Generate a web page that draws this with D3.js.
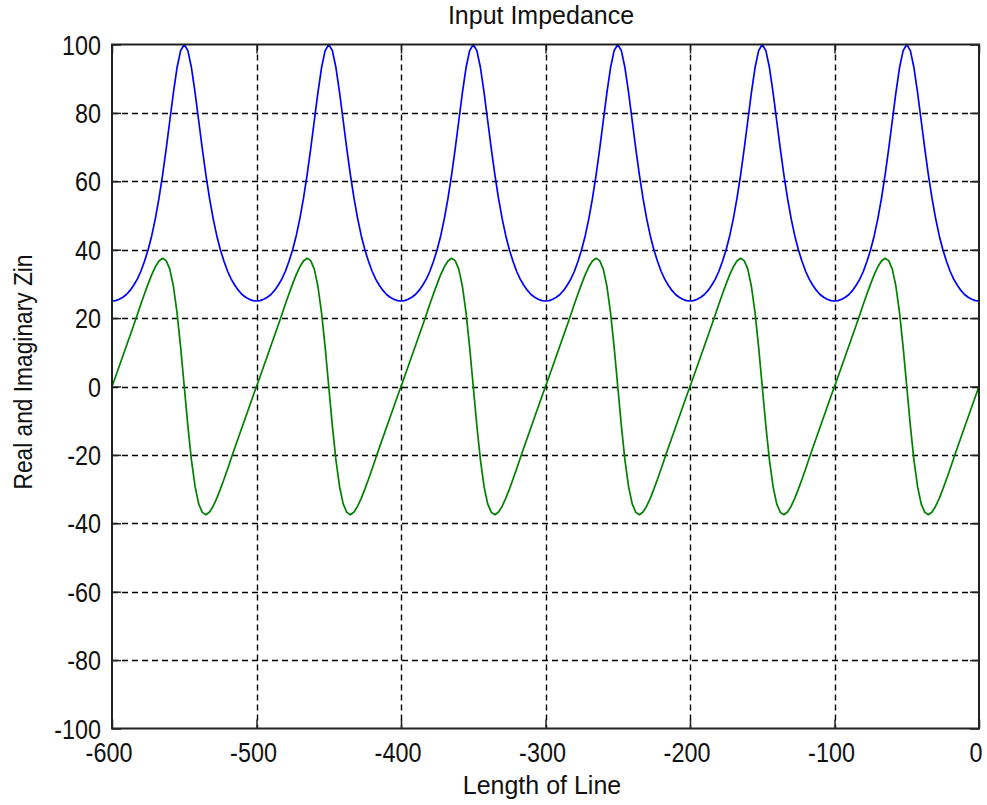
<!DOCTYPE html>
<html>
<head>
<meta charset="utf-8">
<script src="https://cdn.jsdelivr.net/npm/d3@7"></script>
<style>
  html, body { margin: 0; padding: 0; background: #ffffff; }
  svg { display: block; }
  text { font-family: "Liberation Sans", Arial, Helvetica, sans-serif; fill: #111; }
</style>
</head>
<body>
<svg id="chart" width="987" height="805"></svg>
<script>
// ---------------- DATA ----------------
const chartTitle = "Input Impedance";
const xAxisTitle = "Length of Line";
const yAxisTitle = "Real and Imaginary Zin";

// sample positions along the line (x values, step 2.5)
const lineLength = d3.range(-600, 0.001, 2.5);

// Real part of Zin
const realZin = [
  25.0, 25.1, 25.5, 26.1, 26.9, 28.1, 29.6, 31.4, 33.7, 36.6, 40.0, 44.1, 49.1, 55.0, 61.8, 69.5, 77.7, 85.9, 93.2, 98.2, 100.0, 98.2, 93.2, 85.9, 77.7, 69.5, 61.8, 55.0, 49.1, 44.1, 40.0, 36.6, 33.7, 31.4, 29.6, 28.1, 26.9, 26.1, 25.5, 25.1,
  25.0, 25.1, 25.5, 26.1, 26.9, 28.1, 29.6, 31.4, 33.7, 36.6, 40.0, 44.1, 49.1, 55.0, 61.8, 69.5, 77.7, 85.9, 93.2, 98.2, 100.0, 98.2, 93.2, 85.9, 77.7, 69.5, 61.8, 55.0, 49.1, 44.1, 40.0, 36.6, 33.7, 31.4, 29.6, 28.1, 26.9, 26.1, 25.5, 25.1,
  25.0, 25.1, 25.5, 26.1, 26.9, 28.1, 29.6, 31.4, 33.7, 36.6, 40.0, 44.1, 49.1, 55.0, 61.8, 69.5, 77.7, 85.9, 93.2, 98.2, 100.0, 98.2, 93.2, 85.9, 77.7, 69.5, 61.8, 55.0, 49.1, 44.1, 40.0, 36.6, 33.7, 31.4, 29.6, 28.1, 26.9, 26.1, 25.5, 25.1,
  25.0, 25.1, 25.5, 26.1, 26.9, 28.1, 29.6, 31.4, 33.7, 36.6, 40.0, 44.1, 49.1, 55.0, 61.8, 69.5, 77.7, 85.9, 93.2, 98.2, 100.0, 98.2, 93.2, 85.9, 77.7, 69.5, 61.8, 55.0, 49.1, 44.1, 40.0, 36.6, 33.7, 31.4, 29.6, 28.1, 26.9, 26.1, 25.5, 25.1,
  25.0, 25.1, 25.5, 26.1, 26.9, 28.1, 29.6, 31.4, 33.7, 36.6, 40.0, 44.1, 49.1, 55.0, 61.8, 69.5, 77.7, 85.9, 93.2, 98.2, 100.0, 98.2, 93.2, 85.9, 77.7, 69.5, 61.8, 55.0, 49.1, 44.1, 40.0, 36.6, 33.7, 31.4, 29.6, 28.1, 26.9, 26.1, 25.5, 25.1,
  25.0, 25.1, 25.5, 26.1, 26.9, 28.1, 29.6, 31.4, 33.7, 36.6, 40.0, 44.1, 49.1, 55.0, 61.8, 69.5, 77.7, 85.9, 93.2, 98.2, 100.0, 98.2, 93.2, 85.9, 77.7, 69.5, 61.8, 55.0, 49.1, 44.1, 40.0, 36.6, 33.7, 31.4, 29.6, 28.1, 26.9, 26.1, 25.5, 25.1,
  25.0
];

// Imaginary part of Zin
const imagZin = [
  0.0, 2.9, 5.9, 8.9, 11.9, 14.9, 17.9, 21.0, 24.1, 27.1, 30.0, 32.7, 35.0, 36.7, 37.5, 36.8, 34.3, 29.3, 21.6, 11.5, 0.0, -11.5, -21.6, -29.3, -34.3, -36.8, -37.5, -36.7, -35.0, -32.7, -30.0, -27.1, -24.1, -21.0, -17.9, -14.9, -11.9, -8.9, -5.9, -2.9,
  0.0, 2.9, 5.9, 8.9, 11.9, 14.9, 17.9, 21.0, 24.1, 27.1, 30.0, 32.7, 35.0, 36.7, 37.5, 36.8, 34.3, 29.3, 21.6, 11.5, 0.0, -11.5, -21.6, -29.3, -34.3, -36.8, -37.5, -36.7, -35.0, -32.7, -30.0, -27.1, -24.1, -21.0, -17.9, -14.9, -11.9, -8.9, -5.9, -2.9,
  0.0, 2.9, 5.9, 8.9, 11.9, 14.9, 17.9, 21.0, 24.1, 27.1, 30.0, 32.7, 35.0, 36.7, 37.5, 36.8, 34.3, 29.3, 21.6, 11.5, 0.0, -11.5, -21.6, -29.3, -34.3, -36.8, -37.5, -36.7, -35.0, -32.7, -30.0, -27.1, -24.1, -21.0, -17.9, -14.9, -11.9, -8.9, -5.9, -2.9,
  0.0, 2.9, 5.9, 8.9, 11.9, 14.9, 17.9, 21.0, 24.1, 27.1, 30.0, 32.7, 35.0, 36.7, 37.5, 36.8, 34.3, 29.3, 21.6, 11.5, 0.0, -11.5, -21.6, -29.3, -34.3, -36.8, -37.5, -36.7, -35.0, -32.7, -30.0, -27.1, -24.1, -21.0, -17.9, -14.9, -11.9, -8.9, -5.9, -2.9,
  0.0, 2.9, 5.9, 8.9, 11.9, 14.9, 17.9, 21.0, 24.1, 27.1, 30.0, 32.7, 35.0, 36.7, 37.5, 36.8, 34.3, 29.3, 21.6, 11.5, 0.0, -11.5, -21.6, -29.3, -34.3, -36.8, -37.5, -36.7, -35.0, -32.7, -30.0, -27.1, -24.1, -21.0, -17.9, -14.9, -11.9, -8.9, -5.9, -2.9,
  0.0, 2.9, 5.9, 8.9, 11.9, 14.9, 17.9, 21.0, 24.1, 27.1, 30.0, 32.7, 35.0, 36.7, 37.5, 36.8, 34.3, 29.3, 21.6, 11.5, 0.0, -11.5, -21.6, -29.3, -34.3, -36.8, -37.5, -36.7, -35.0, -32.7, -30.0, -27.1, -24.1, -21.0, -17.9, -14.9, -11.9, -8.9, -5.9, -2.9,
  0.0
];

const xTicks = [-600, -500, -400, -300, -200, -100, 0];
const yTicks = [-100, -80, -60, -40, -20, 0, 20, 40, 60, 80, 100];

// ---------------- LAYOUT ----------------
const plot = { left: 112, right: 979, top: 44.5, bottom: 728.5 };
const svg = d3.select("#chart");

const x = d3.scaleLinear().domain([-600, 0]).range([plot.left, plot.right]);
const y = d3.scaleLinear().domain([-100, 100]).range([plot.bottom, plot.top]);

// grid (dashed)
const grid = svg.append("g");
grid.selectAll("line.gx").data(xTicks.slice(1, -1)).join("line")
  .attr("x1", d => Math.round(x(d)) + 0.5).attr("x2", d => Math.round(x(d)) + 0.5)
  .attr("y1", plot.top).attr("y2", plot.bottom)
  .attr("stroke", "#000").attr("stroke-width", 1.4).attr("stroke-dasharray", "6,4");
grid.selectAll("line.gy").data(yTicks.slice(1, -1)).join("line")
  .attr("y1", d => Math.round(y(d)) + 0.5).attr("y2", d => Math.round(y(d)) + 0.5)
  .attr("x1", plot.left).attr("x2", plot.right)
  .attr("stroke", "#000").attr("stroke-width", 1.4).attr("stroke-dasharray", "6,4");

// curves
svg.append("clipPath").attr("id", "clip").append("rect")
  .attr("x", plot.left).attr("y", plot.top - 1)
  .attr("width", plot.right - plot.left).attr("height", plot.bottom - plot.top + 2);

const curve = d3.line().x((d, i) => x(lineLength[i])).y(d => y(d));
svg.append("path").datum(realZin)
  .attr("clip-path", "url(#clip)")
  .attr("d", curve).attr("fill", "none")
  .attr("stroke", "#0000ff").attr("stroke-width", 1.7).attr("stroke-linejoin", "round");
svg.append("path").datum(imagZin)
  .attr("clip-path", "url(#clip)")
  .attr("d", curve).attr("fill", "none")
  .attr("stroke", "#008000").attr("stroke-width", 1.7).attr("stroke-linejoin", "round");

// axes box
const axisColor = "#222";
const gx = svg.append("g").attr("transform", `translate(0,${plot.bottom})`)
  .call(d3.axisBottom(x).tickValues(xTicks).tickSize(-9).tickFormat(""));
const gxTop = svg.append("g").attr("transform", `translate(0,${plot.top})`)
  .call(d3.axisTop(x).tickValues(xTicks).tickSize(-9).tickFormat(""));
const gy = svg.append("g").attr("transform", `translate(${plot.left},0)`)
  .call(d3.axisLeft(y).tickValues(yTicks).tickSize(-9).tickFormat(""));
const gyR = svg.append("g").attr("transform", `translate(${plot.right},0)`)
  .call(d3.axisRight(y).tickValues(yTicks).tickSize(-9).tickFormat(""));
[gx, gxTop, gy, gyR].forEach(g => {
  g.selectAll(".domain").remove();
  g.selectAll(".tick line").attr("stroke", axisColor).attr("stroke-width", 1.5);
});
svg.append("rect")
  .attr("x", plot.left).attr("y", plot.top)
  .attr("width", plot.right - plot.left).attr("height", plot.bottom - plot.top)
  .attr("fill", "none").attr("stroke", axisColor).attr("stroke-width", 2);

// tick labels (condensed, ASCII hyphen minus)
const tickFont = 28, squeeze = 0.835;
svg.append("g").selectAll("g").data(xTicks).join("g")
  .attr("transform", d => `translate(${x(d) - 3},762) scale(${squeeze},1)`)
  .append("text").attr("text-anchor", "middle")
  .style("font-size", tickFont + "px").text(d => String(d));
svg.append("g").selectAll("g").data(yTicks).join("g")
  .attr("transform", d => `translate(101,${y(d) + 10}) scale(${squeeze},1)`)
  .append("text").attr("text-anchor", "end")
  .style("font-size", tickFont + "px").text(d => String(d));

// titles
svg.append("text").attr("x", 541).attr("y", 24).attr("text-anchor", "middle")
  .style("font-size", "25px").text(chartTitle);
svg.append("text").attr("x", 542).attr("y", 794).attr("text-anchor", "middle")
  .style("font-size", "25px").text(xAxisTitle);
svg.append("text").attr("transform", "translate(32,372) rotate(-90)")
  .attr("text-anchor", "middle")
  .attr("textLength", 235).attr("lengthAdjust", "spacingAndGlyphs")
  .style("font-size", "25px").text(yAxisTitle);
</script>
</body>
</html>
